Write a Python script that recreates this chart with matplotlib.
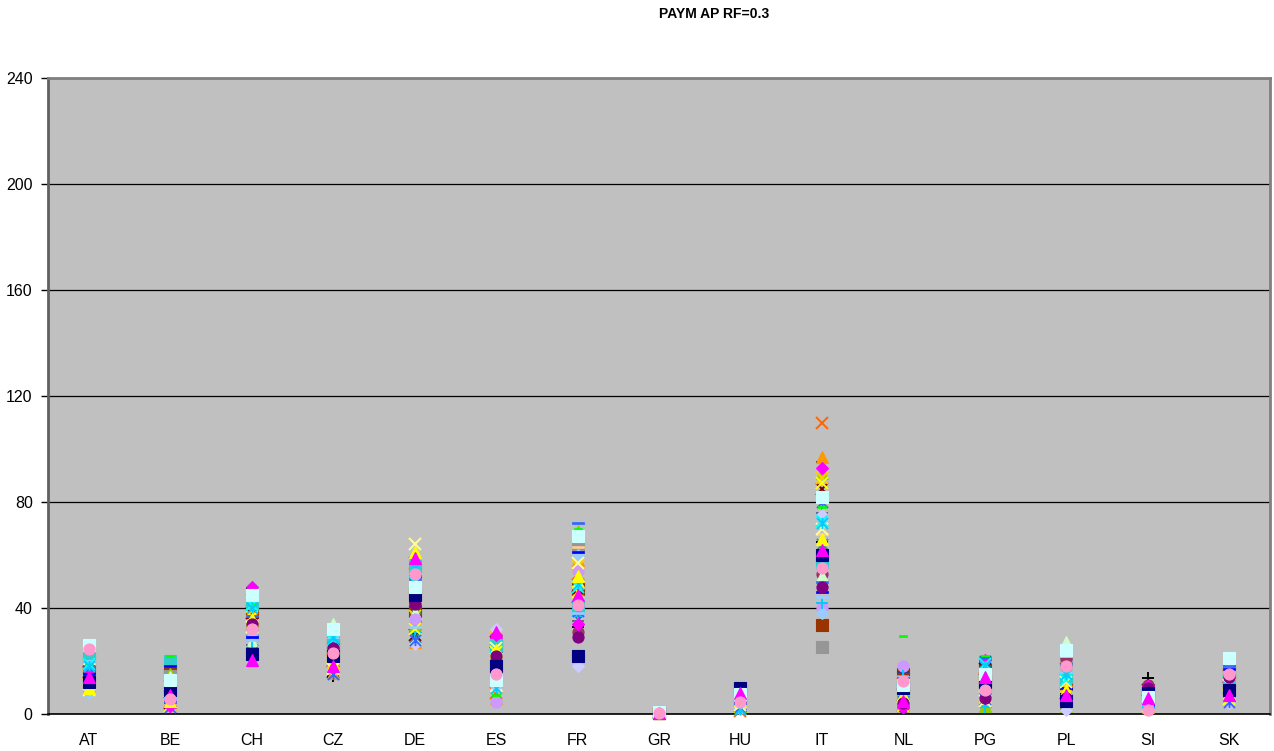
import numpy as np
import matplotlib
matplotlib.use("Agg")
import matplotlib.pyplot as plt
from matplotlib.path import Path

# Categorias (paises)
countries = ['AT', 'BE', 'CH', 'CZ', 'DE', 'ES', 'FR', 'GR', 'HU', 'IT', 'NL', 'PG', 'PL', 'SI', 'SK']

# Valores por pais, un valor por serie (36 series)
at = [12, 14, 10, 19, 13, 16, 22, 15, 18, 26, 21, 9, 20, 24.5, 11, 22.5, 17, 23,
      12.5, 18.5, 10.5, 15.5, 13.5, 20.5, 16.5, 19.5, 14.5, 11.5, 17.5, 21.5, 12, 16, 14, 19, 8, 9.5]
be = [9, 7, 5, 8, 10, 4, 6, 18, 12, 13, 14, 8.5, 6.5, 5.5, 7.5, 11, 4.5, 20,
      15, 9.5, 3.5, 10.5, 11.5, 14.5, 3, 5, 6, 3.2, 16.6, 8, 4, 2.8, 7, 22, 12.5, 9]
ch = [22.5, 20.5, 36, 41, 34, 38, 44, 29, 40, 45, 27, 33, 28, 32, 46, 31, 37, 42,
      35, 39, 47, 43, 26, 30, 48, 24, 25, 36.5, 38.5, 33.5, 46.5, 23.5, 47.5, 41.5, 30.5, 44.5]
cz = [22, 18, 19, 28, 25, 16, 27, 31, 29, 32, 34, 17, 30, 23, 20, 24, 33, 26,
      21, 19.5, 15.5, 20.5, 24.5, 27.5, 26.5, 29.5, 22.5, 17.5, 25.5, 24, 21.5, 15, 14.5, 30.5, 28.5, 16.5]
de = [45, 59, 61, 50, 41.5, 30, 29, 52, 55, 48, 38, 64, 33, 53, 36, 47, 51, 56,
      34, 37, 27, 57, 43, 46, 44, 40, 31, 32, 39, 35, 42, 28, 49, 58, 54, 26.5]
es = [18, 31, 24, 21, 22, 27, 28, 20, 10, 13, 11, 25, 12, 15, 4.5, 9, 19, 26,
      23, 29, 6, 8, 17, 14, 30, 16, 20.5, 23.5, 25.5, 18.5, 21.5, 16.5, 13.5, 7, 10.5, 32]
fr = [22, 45, 52, 48, 29, 44, 36, 61, 49, 67, 50, 57, 38, 41, 54, 63, 72, 40,
      69, 56, 58, 53, 35, 64, 34, 43, 37, 46, 47, 31, 42, 39, 33, 70, 60, 18]
gr = [0.4, 0.3, 0.5, 0.2, 0.6, 0.4, 0.3, 0.5, 0.4, 0.6, 0.3, 0.2, 0.5, 0.4, 0.3, 0.5, 0.4, 0.6,
      0.2, 0.3, 0.5, 0.4, 0.3, 0.6, 0.4, 0.5, 0.3, 0.2, 0.4, 0.5, 0.3, 0.4, 0.2, 0.5, 0.3, 0.4]
hu = [10, 8, 5, 7, 9, 3, 6, 4, 2, 7.5, 5.5, 3.5, 6.5, 4.5, 2.5, 8.5, 1.5, 9.5,
      3, 5, 6, 1, 4, 7, 8, 2, 9, 3.2, 5.2, 6.2, 9.8, 2.2, 4.2, 7.2, 1.8, 3.8]
it = [60, 62, 66, 73, 48, 85, 58, 46, 72, 82, 52, 70, 44, 55, 40, 68, 50, 57,
      91, 89, 97, 110, 76, 25.3, 93, 64, 42, 87, 33.6, 53, 95, 80, 65, 78, 38, 75]
nl = [10, 5, 7, 9, 4, 3, 8, 12, 6, 11, 13, 6.5, 14, 12.5, 18, 9.5, 13.5, 7.5,
      5.5, 4.5, 8.5, 11.5, 3.5, 10.5, 2.5, 6, 14.5, 3, 15, 2.8, 16, 5, 7, 29.4, 9, 4]
pg = [12, 14, 8, 19, 6, 17, 20, 16, 18, 15, 13, 5, 10, 9, 7, 4, 21, 11,
      3, 6.5, 9.5, 13.5, 17.5, 12.5, 20.5, 4.5, 2.5, 10.5, 16.5, 7.5, 19.5, 5.5, 3.5, 22, 14.5, 8.5]
pl = [5, 7, 9, 13, 6, 8, 11, 10, 15, 24, 27, 12, 16, 18, 4, 22, 19, 14,
      3, 10.5, 12.5, 17, 2, 20, 6.5, 8.5, 13.5, 4.5, 11.5, 21, 9.5, 5.5, 7.5, 16.5, 3.5, 1.5]
si = [8, 6, 7, 5, 10, 9, 4, 3.5, 5.5, 6.5, 7.5, 3, 4.5, 1.5, 2, 5, 3, 6,
      8.5, 4, 2.5, 7, 9.5, 5.8, 10.5, 3.8, 8, 6.8, 9, 11, 2.8, 4.2, 13.5, 4.8, 3.2, 2.2]
sk = [9, 7, 8, 12, 14, 10, 6, 17, 13, 21, 19, 11, 16, 15, 5, 20, 18, 12.5,
      8.5, 7.5, 9.5, 14.5, 11.5, 16.5, 10.5, 6.5, 13.5, 5.5, 15.5, 18.5, 12, 4.5, 10, 7, 17.5, 4]

# Colores y marcadores de cada serie (paleta Excel)
series_colors = ['#000080', '#FF00FF', '#FFFF00', '#00FFFF', '#800080', '#800000', '#008080', '#0000FF',
                 '#00CCFF', '#CCFFFF', '#CCFFCC', '#FFFF99', '#99CCFF', '#FF99CC', '#CC99FF', '#FFCC99',
                 '#3366FF', '#33CCCC', '#99CC00', '#FFCC00', '#FF9900', '#FF6600', '#666699', '#969696',
                 '#FF00FF', '#339966', '#00CCFF', '#FFFF00', '#993300', '#993366', '#333399', '#3366FF',
                 '#000000', '#00FF00', '#99CCFF', '#CCCCFF']
series_markers = ['s', '^', '^', 'x', 'o', 'x', 'star', 'longdash',
                  'star', 's', '^', 'x', 'longdash', 'o', 'o', 'longdash',
                  'longdash', 's', '^', 'x', '^', 'x', '+', 's',
                  'D', 'star', '+', 'x', 's', 'o', '+', 'star',
                  '+', 'dash', 'D', 'D']
# Orden de dibujo: las series oscuras primero, quedan debajo
draw_order = [28, 23, 5, 22, 30, 32, 29, 25, 6, 18, 20, 21, 19, 15, 10, 14, 34, 35,
              17, 26, 27, 31, 24, 33, 12, 16, 7, 11, 3, 8, 2, 4, 0, 9, 1, 13]

# Marcadores propios: asterisco tipo Excel y guiones
star_path = Path([(-1, -1), (1, 1), (-1, 1), (1, -1), (0, -1), (0, 1)],
                 [Path.MOVETO, Path.LINETO, Path.MOVETO, Path.LINETO, Path.MOVETO, Path.LINETO])
dash_verts = [(-1, -0.25), (1, -0.25), (1, 0.25), (-1, 0.25), (-1, -0.25)]

values = np.array([at, be, ch, cz, de, es, fr, gr, hu, it, nl, pg, pl, si, sk]).T
x = np.arange(len(countries)) + 0.5

plt.rcParams['font.family'] = ['Liberation Sans', 'DejaVu Sans']
fig = plt.figure(figsize=(12.74, 7.51), dpi=100)
ax = fig.add_axes([48 / 1274, 37 / 751, 1222 / 1274, 636 / 751])
ax.set_facecolor('#C0C0C0')

for k, i in enumerate(draw_order):
    m = series_markers[i]
    c = series_colors[i]
    kw = dict(linestyle='none', clip_on=False, zorder=3 + k * 0.01)
    if m == 'star':
        ax.plot(x, values[i], marker=star_path, ms=8, mec=c, mfc='none', mew=1.3, **kw)
    elif m in ('x', '+'):
        ax.plot(x, values[i], marker=m, ms=8, mec=c, mew=1.4, **kw)
    elif m == 'longdash':
        ax.plot(x, values[i], marker=dash_verts, ms=8, mec=c, mfc=c, mew=0.5, **kw)
    elif m == 'dash':
        ax.plot(x, values[i], marker=dash_verts, ms=5.5, mec=c, mfc=c, mew=0.5, **kw)
    elif m == 'D':
        ax.plot(x, values[i], marker='D', ms=5.8, mec=c, mfc=c, mew=0.8, **kw)
    else:
        ax.plot(x, values[i], marker=m, ms=8, mec=c, mfc=c, mew=0.8, **kw)

ax.set_xlim(0, len(countries))
ax.set_ylim(0, 240)
ax.set_yticks(np.arange(0, 241, 40))
ax.set_xticks(x)
ax.set_xticklabels(countries)
ax.tick_params(axis='x', length=0, labelsize=11.5, pad=14)
ax.tick_params(axis='y', length=5, width=1, labelsize=11.5, pad=6, color='#000000')
ax.yaxis.grid(True, color='black', linewidth=0.9)
ax.set_axisbelow(True)

ax.spines['bottom'].set_color('black')
ax.spines['bottom'].set_linewidth(1.2)
ax.spines['left'].set_color('#606060')
ax.spines['left'].set_linewidth(2)
ax.spines['top'].set_color('#808080')
ax.spines['top'].set_linewidth(2)
ax.spines['right'].set_color('#808080')
ax.spines['right'].set_linewidth(2)

fig.text(714 / 1274, 1 - 14 / 751, 'PAYM AP RF=0.3', ha='center', va='center',
         fontsize=10, fontweight='bold')

fig.savefig('out.png', dpi=100)
